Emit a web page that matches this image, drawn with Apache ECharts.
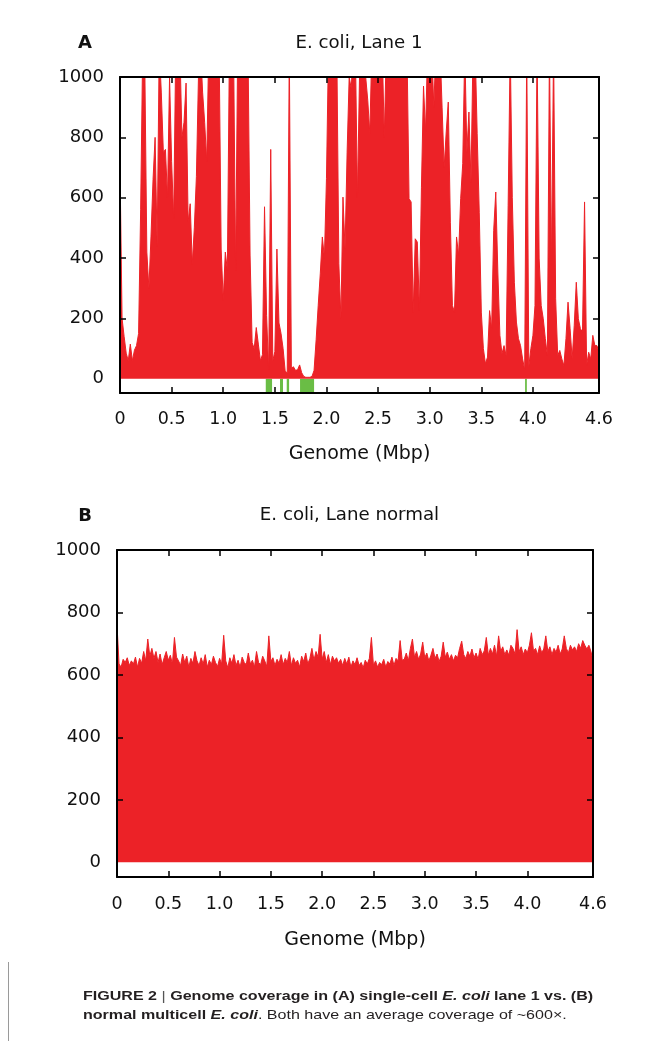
<!DOCTYPE html>
<html><head><meta charset="utf-8">
<script src="https://cdn.jsdelivr.net/npm/echarts@6/dist/echarts.min.js"></script>
<style>
html,body{margin:0;padding:0;background:#fff;}
#chart{position:absolute;left:0;top:0;width:654px;height:1041px;}
#cap{position:absolute;left:83px;top:986px;font-family:"Liberation Sans",Arial,sans-serif;font-size:13px;line-height:19px;color:#231f20;white-space:nowrap;transform:scaleX(1.235);transform-origin:0 0;}
#cap .bar{font-weight:normal;color:#555;}
#rule{position:absolute;left:8px;top:962px;width:0;height:79px;border-left:1px solid #9a9a9a;}
</style></head><body>
<div id="chart"></div>
<div id="rule"></div>
<div id="cap"><b>FIGURE 2</b> <span class="bar">|</span> <b>Genome coverage in (A) single-cell <i>E. coli</i> lane 1 vs. (B)</b><br><b>normal multicell <i>E. coli</i></b>. Both have an average coverage of ~600×.</div>
<script>
// ---- data ----
const binMbp = 0.02;          // bin width (Mbp)
const genomeMax = 4.64;       // genome length (Mbp)
const laneOneCov = [
  700,200,140,85,60,115,60,95,110,150,
  560,1100,1050,420,300,470,660,800,440,1100,
  950,750,760,600,1000,720,530,1100,1100,1100,
  800,850,980,520,580,380,500,670,1000,1100,
  950,850,720,1100,1100,1100,1100,1100,1100,430,
  260,420,360,1100,1100,1100,360,1100,1100,1100,
  1100,1100,1100,410,120,100,170,115,60,80,
  570,210,30,760,60,90,430,185,150,100,
  25,20,1100,35,40,28,30,46,20,8,
  5,5,5,8,28,130,243,348,470,400,
  663,1100,1100,1100,1100,1100,381,200,602,431,
  751,1000,961,1100,1100,600,1000,1000,1100,1000,
  923,812,1100,1100,1100,1100,1100,1100,800,1100,
  1100,1100,1100,1100,1100,1100,1100,1100,1100,1100,
  597,586,220,464,453,226,635,970,818,1100,
  1100,1100,900,1100,1100,1100,900,700,818,917,
  519,243,221,470,409,597,713,1100,750,884,
  652,1100,1100,812,552,221,100,50,72,226,
  166,492,619,354,144,83,110,77,575,1100,
  600,320,188,133,110,66,30,1100,40,100,
  144,243,1100,400,243,199,133,77,1100,376,
  1100,265,77,94,66,44,133,254,166,66,
  177,320,199,166,155,586,44,88,66,144,
  110,110,88
];
const laneNormalCov = [
  760,635,625,650,640,655,630,645,635,657,
  625,653,637,675,645,715,660,685,653,675,
  640,667,633,655,675,647,663,635,720,657,
  645,630,667,640,660,625,653,637,675,645,
  630,655,635,665,625,647,633,660,640,627,
  653,635,727,645,623,655,637,665,630,647,
  625,657,640,633,670,635,647,625,675,640,
  633,660,645,627,725,643,655,630,650,637,
  665,633,653,640,675,630,655,637,647,625,
  660,643,670,635,653,685,647,675,657,730,
  650,675,640,665,633,660,645,655,637,650,
  630,653,635,657,625,645,633,655,630,640,
  623,647,635,653,720,630,645,625,640,633,
  650,625,643,635,657,630,653,645,710,647,
  650,670,645,685,715,657,675,650,667,705,
  655,670,645,663,685,653,667,643,660,705,
  657,673,650,665,645,663,655,685,708,665,
  653,675,660,683,655,670,650,685,665,677,
  720,663,685,667,695,660,725,675,690,665,
  680,663,695,685,667,745,675,690,665,683,
  671,695,735,677,685,665,693,671,683,725,
  675,690,665,685,673,695,667,683,725,685,
  671,695,680,690,675,700,685,710,695,683,
  695,675,645
];
// zero-coverage regions in lane 1 (start, end Mbp)
const zeroCovStart = [1.412, 1.550, 1.615, 1.744, 3.924];
const zeroCovEnd   = [1.473, 1.579, 1.638, 1.880, 3.941];
const xTickValues  = [0.5, 1, 1.5, 2, 2.5, 3, 3.5, 4];
const xLabelValues = [0, 0.5, 1, 1.5, 2, 2.5, 3, 3.5, 4, 4.64];
const yTickValues  = [200, 400, 600, 800];
const yLabelValues = [0, 200, 400, 600, 800, 1000];
const yMin = -47, yMax = 1000;
const panelTitles = ['E. coli, Lane 1', 'E. coli, Lane normal'];
const panelLetters = ['A', 'B'];
const xName = 'Genome (Mbp)';

// ---- styling ----
const RED = '#ec2227', GREEN = '#6abd45', INK = '#111';
const FONT = '"DejaVu Sans", "Liberation Sans", sans-serif';

function xAxes(gi, margin, nameGap) {
  const base = {
    type: 'value', gridIndex: gi, min: 0, max: genomeMax, z: 10,
    axisLine: { show: true, onZero: false, lineStyle: { color: '#000', width: 2 } },
    axisTick: { show: true, inside: true, length: 6, customValues: xTickValues, lineStyle: { color: '#000', width: 1.5 } },
    splitLine: { show: false }
  };
  return [
    Object.assign({}, base, {
      position: 'bottom',
      axisLabel: {
        customValues: xLabelValues, margin: margin, fontFamily: FONT, fontSize: 17.5, color: INK,
        formatter: v => v === 0 ? '0' : (v > 4.6 ? '4.6' : v.toFixed(1))
      },
      name: xName, nameLocation: 'middle', nameGap: nameGap,
      nameTextStyle: { fontFamily: FONT, fontSize: 19, color: INK }
    }),
    Object.assign({}, base, { position: 'top', axisLabel: { show: false } })
  ];
}
function yAxes(gi) {
  const base = {
    type: 'value', gridIndex: gi, min: yMin, max: yMax, z: 10,
    axisLine: { show: true, onZero: false, lineStyle: { color: '#000', width: 2 } },
    axisTick: { show: true, inside: true, length: 6, customValues: yTickValues, lineStyle: { color: '#000', width: 1.5 } },
    splitLine: { show: false }
  };
  return [
    Object.assign({}, base, { position: 'left',
      axisLabel: { customValues: yLabelValues, margin: 16, fontFamily: FONT, fontSize: 18, color: INK,
        formatter: v => String(v) } }),
    Object.assign({}, base, { position: 'right', axisLabel: { show: false } })
  ];
}
function toPairs(arr) { return arr.map((v, i) => [Math.round(i * binMbp * 100) / 100, v]); }

const option = {
  animation: false,
  backgroundColor: '#fff',
  grid: [
    { left: 120, top: 77, width: 479, height: 316 },
    { left: 117, top: 550, width: 476, height: 327 }
  ],
  xAxis: [].concat(xAxes(0, 17, 52), xAxes(1, 18, 54)),
  yAxis: [].concat(yAxes(0), yAxes(1)),
  series: [
    {
      type: 'line', xAxisIndex: 0, yAxisIndex: 0, data: toPairs(laneOneCov),
      symbol: 'none', clip: true, z: 2,
      lineStyle: { color: RED, width: 1 }, itemStyle: { color: RED },
      areaStyle: { color: RED, opacity: 1 },
      markArea: {
        silent: true, itemStyle: { color: GREEN, opacity: 1 },
        data: zeroCovStart.map((s, k) => [{ xAxis: s, yAxis: yMin }, { xAxis: zeroCovEnd[k], yAxis: 0 }])
      }
    },
    {
      type: 'line', xAxisIndex: 2, yAxisIndex: 2, data: toPairs(laneNormalCov),
      symbol: 'none', clip: true, z: 2,
      lineStyle: { color: RED, width: 1 }, itemStyle: { color: RED },
      areaStyle: { color: RED, opacity: 1 }
    }
  ],
  graphic: [
    { type: 'text', x: 85, y: 43, style: { text: panelLetters[0], fill: INK, font: 'bold 18px ' + FONT, align: 'center', verticalAlign: 'middle' } },
    { type: 'text', x: 359, y: 43, style: { text: panelTitles[0], fill: INK, font: '18.2px ' + FONT, align: 'center', verticalAlign: 'middle' } },
    { type: 'text', x: 85, y: 516, style: { text: panelLetters[1], fill: INK, font: 'bold 18px ' + FONT, align: 'center', verticalAlign: 'middle' } },
    { type: 'text', x: 349.5, y: 515, style: { text: panelTitles[1], fill: INK, font: '18.2px ' + FONT, align: 'center', verticalAlign: 'middle' } }
  ]
};
const chart = echarts.init(document.getElementById('chart'), null, { renderer: 'canvas' });
chart.setOption(option);
</script>
</body></html>
